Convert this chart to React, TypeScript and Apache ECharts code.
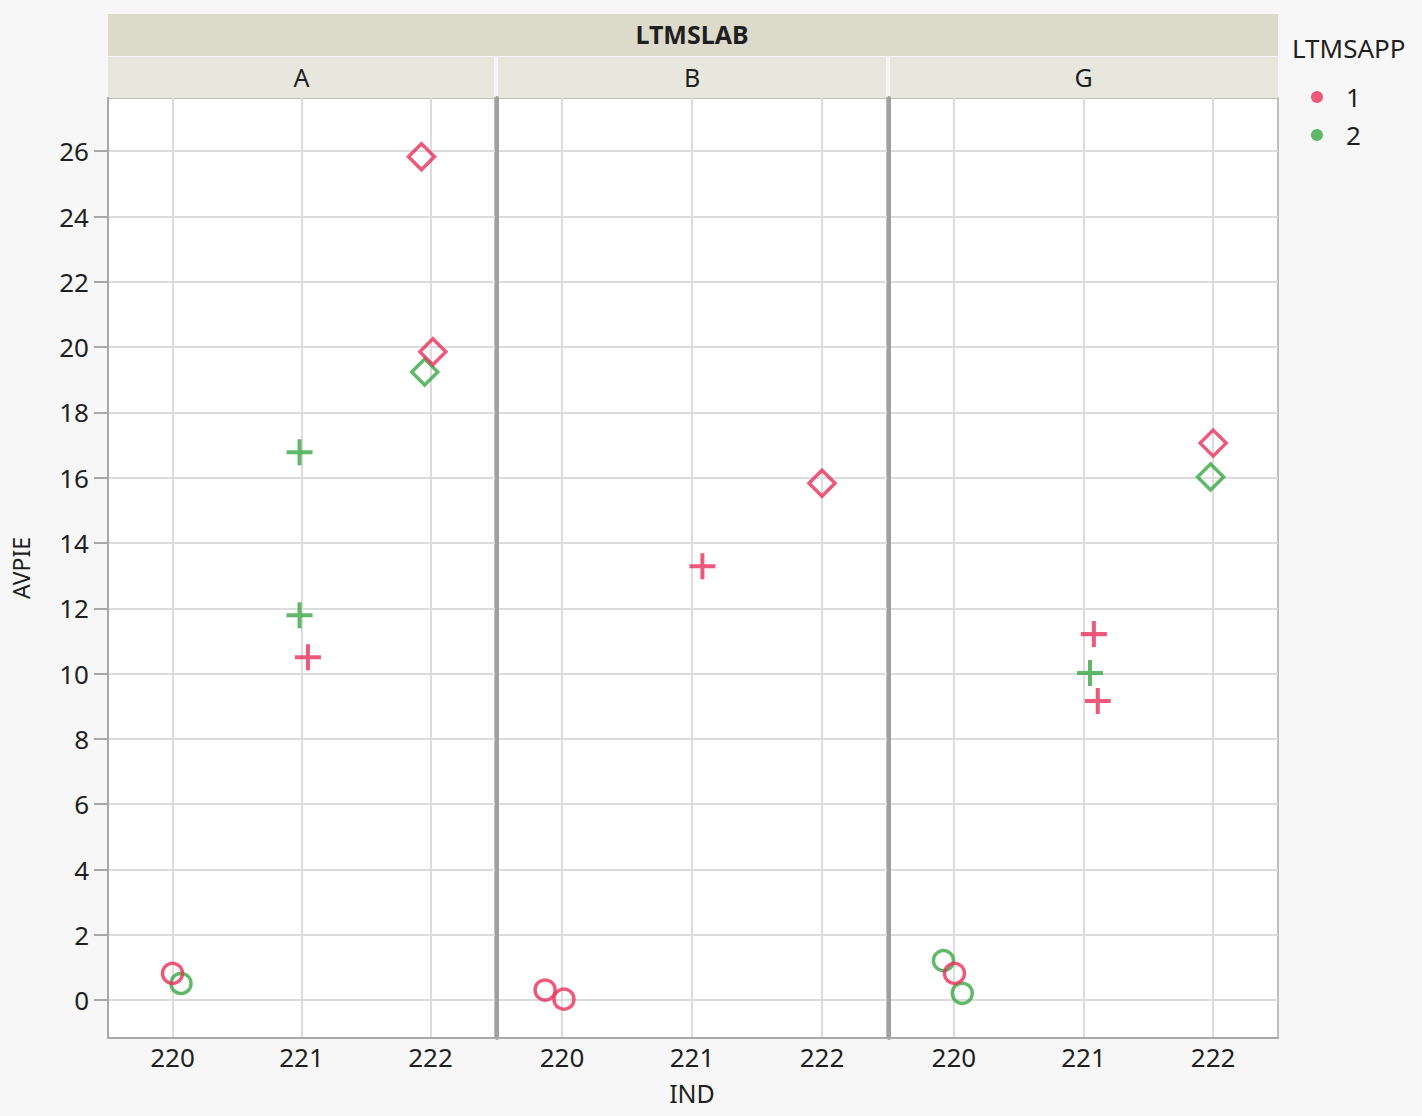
import React, { useEffect, useRef } from 'react';
import * as echarts from 'echarts';

// ---- data ----
const PANELS = ['A', 'B', 'G'];
const APP_LEVELS = ['1', '2'];
const IND_TICKS = [220, 221, 222];
const Y_TICKS = [0, 2, 4, 6, 8, 10, 12, 14, 16, 18, 20, 22, 24, 26];

// one entry per observation
const LAB = ['A', 'A', 'A', 'A', 'A', 'A', 'A', 'A', 'B', 'B', 'B', 'B', 'G', 'G', 'G', 'G', 'G', 'G', 'G', 'G'];
const APP = ['1', '2', '2', '2', '1', '1', '1', '2', '1', '1', '1', '1', '2', '1', '2', '1', '2', '1', '1', '2'];
const IND = [220, 220, 221, 221, 221, 222, 222, 222, 220, 220, 221, 222, 220, 220, 220, 221, 221, 221, 222, 222];
const IND_JITTER = [0.0, 0.066, -0.015, -0.015, 0.05, -0.07, 0.018, -0.045, -0.13, 0.015, 0.08, 0.0, -0.08, 0.005, 0.065, 0.08, 0.05, 0.11, 0.0, -0.02];
const AVPIE = [0.82, 0.51, 16.78, 11.79, 10.5, 25.83, 19.86, 19.24, 0.31, 0.03, 13.29, 15.83, 1.21, 0.82, 0.21, 11.21, 10.02, 9.16, 17.06, 16.02];

const COLORS: Record<string, string> = { '1': '#e8305a', '2': '#38a844' };
const PLUS = 'path://M9.3,0H12.7V9.3H22V12.7H12.7V22H9.3V12.7H0V9.3H9.3Z';
const FONT = 'Noto Sans';
const TXT = '#1f1f1f';

const GRIDS = [
  { left: 108, width: 387 },
  { left: 497, width: 390 },
  { left: 889, width: 389 },
];
const TOP = 98;
const HEIGHT = 940;

function buildOption() {
  const grid = GRIDS.map((g) => ({
    left: g.left,
    width: g.width,
    top: TOP,
    height: HEIGHT,
    show: true,
    backgroundColor: '#ffffff',
    borderColor: '#a9a9a9',
    borderWidth: 1.5,
    containLabel: false,
  }));

  const xAxis = GRIDS.map((_, i) => ({
    type: 'value',
    gridIndex: i,
    min: 219.5,
    max: 222.5,
    name: i === 1 ? 'IND' : '',
    nameLocation: 'middle',
    nameGap: 42,
    nameTextStyle: { fontFamily: FONT, fontSize: 25, color: TXT },
    axisLine: { show: true, onZero: false, lineStyle: { color: '#a9a9a9', width: 2 } },
    axisTick: { show: false, customValues: IND_TICKS },
    axisLabel: { customValues: IND_TICKS, fontFamily: FONT, fontSize: 26, color: TXT, margin: 6 },
    splitLine: { show: true, lineStyle: { color: '#dcdcdc', width: 2 } },
  }));

  const yAxis = GRIDS.map((_, i) => ({
    type: 'value',
    gridIndex: i,
    min: -1.16,
    max: 27.63,
    name: i === 0 ? 'AVPIE' : '',
    nameLocation: 'middle',
    nameGap: 76,
    nameRotate: 90,
    nameTextStyle: { fontFamily: FONT, fontSize: 23, color: TXT },
    axisLine: {
      show: true,
      onZero: false,
      lineStyle: { color: i === 0 ? '#a9a9a9' : '#a0a0a0', width: i === 0 ? 2 : 4 },
    },
    axisTick: {
      show: i === 0,
      length: 14,
      customValues: Y_TICKS,
      lineStyle: { color: '#a9a9a9', width: 2 },
    },
    axisLabel: {
      show: i === 0,
      customValues: Y_TICKS,
      fontFamily: FONT,
      fontSize: 26,
      color: TXT,
      margin: 19,
    },
    splitLine: { show: true, lineStyle: { color: '#dcdcdc', width: 2 } },
  }));

  const series: any[] = [];
  PANELS.forEach((p, pi) => {
    // green first, red on top
    [...APP_LEVELS].reverse().forEach((a) => {
      const color = COLORS[a];
      const data: any[] = [];
      LAB.forEach((lab, k) => {
        if (lab !== p || APP[k] !== a) return;
        const ind = IND[k];
        const value = [ind + IND_JITTER[k], AVPIE[k]];
        let item: any;
        if (ind === 220) {
          item = {
            value,
            symbol: 'circle',
            symbolSize: 20,
            itemStyle: { color: 'rgba(0,0,0,0)', borderColor: color, borderWidth: 3.5 },
          };
        } else if (ind === 221) {
          item = {
            value,
            symbol: PLUS,
            symbolSize: 26,
            itemStyle: { color, borderWidth: 0 },
          };
        } else {
          item = {
            value,
            symbol: 'diamond',
            symbolSize: 26,
            itemStyle: { color: 'rgba(0,0,0,0)', borderColor: color, borderWidth: 3.5 },
          };
        }
        data.push(item);
      });
      series.push({
        type: 'scatter',
        name: a,
        xAxisIndex: pi,
        yAxisIndex: pi,
        itemStyle: { color },
        z: a === '1' ? 4 : 3,
        data,
      });
    });
  });

  const graphic: any[] = [
    { type: 'rect', shape: { x: 108, y: 14, width: 1170, height: 42 }, style: { fill: '#dcdacb' }, silent: true },
    {
      type: 'text',
      x: 692,
      y: 34,
      style: { text: 'LTMSLAB', fontFamily: FONT, fontSize: 25, fontWeight: 'bold', fill: TXT, align: 'center', verticalAlign: 'middle' },
    },
    {
      type: 'text',
      x: 1292,
      y: 48,
      style: { text: 'LTMSAPP', fontFamily: FONT, fontSize: 26, fill: TXT, align: 'left', verticalAlign: 'middle' },
    },
  ];
  GRIDS.forEach((g, i) => {
    const x0 = i === 0 ? 108 : g.left + 1;
    const x1 = i === 2 ? 1278 : g.left + g.width - 1;
    graphic.push({ type: 'rect', shape: { x: x0, y: 57, width: x1 - x0, height: 41 }, style: { fill: '#e8e7de' }, silent: true });
    graphic.push({
      type: 'text',
      x: g.left + g.width / 2,
      y: 77,
      style: { text: PANELS[i], fontFamily: FONT, fontSize: 25, fill: TXT, align: 'center', verticalAlign: 'middle' },
    });
  });

  return {
    animation: false,
    backgroundColor: '#f7f7f7',
    grid,
    xAxis,
    yAxis,
    series,
    legend: {
      orient: 'vertical',
      left: 1306,
      top: 79,
      itemWidth: 40,
      itemHeight: 12,
      itemGap: 12,
      selectedMode: false,
      data: APP_LEVELS.map((a) => ({ name: a, icon: 'circle', itemStyle: { color: COLORS[a], borderWidth: 0 } })),
      textStyle: { fontFamily: FONT, fontSize: 26, color: TXT, padding: [0, 0, 0, 4] },
    },
    graphic,
  };
}

export default function App() {
  const ref = useRef<HTMLDivElement>(null);
  useEffect(() => {
    if (!ref.current) return;
    const chart = echarts.init(ref.current, undefined, { renderer: 'svg' });
    chart.setOption(buildOption() as any);
    return () => chart.dispose();
  }, []);
  return (
    <div
      ref={ref}
      style={{ position: 'fixed', left: 0, top: 0, width: 1422, height: 1116 }}
    />
  );
}
